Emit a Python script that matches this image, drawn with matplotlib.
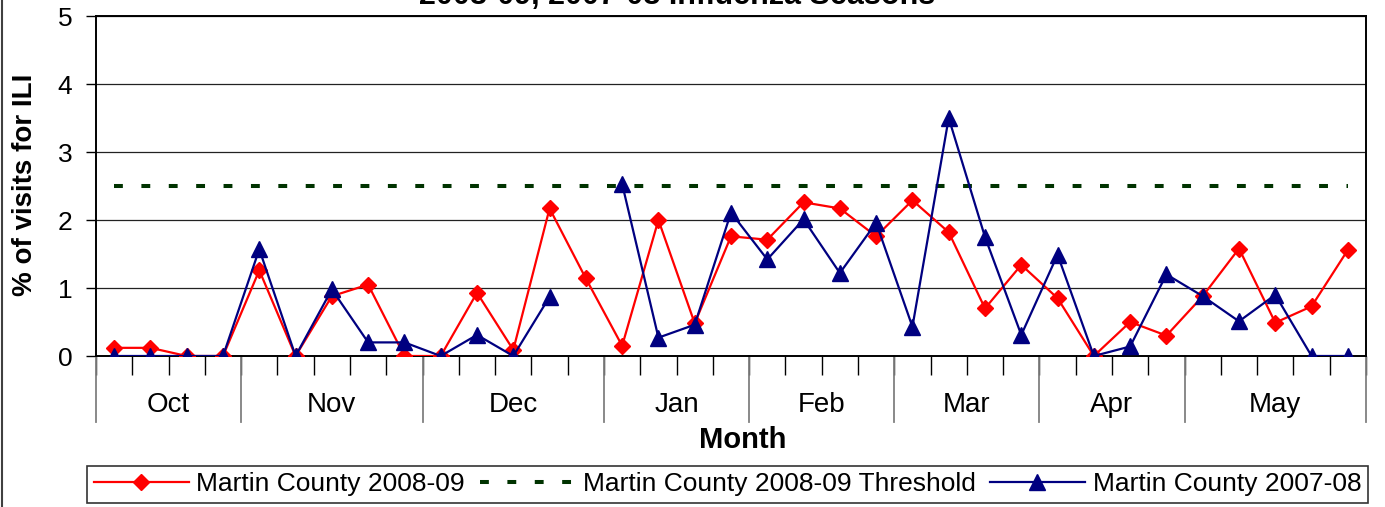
import numpy as np
import matplotlib
matplotlib.use('Agg')
import matplotlib.pyplot as plt
from matplotlib.lines import Line2D
import matplotlib.transforms as mtransforms

plt.rcParams['font.family'] = ['Liberation Sans', 'DejaVu Sans']

# weekly % of visits for ILI, Oct .. May
months = ['Oct', 'Nov', 'Dec', 'Jan', 'Feb', 'Mar', 'Apr', 'May']
weeksPerMonth = [4, 5, 5, 4, 4, 4, 4, 5]
ili2008 = [0.12, 0.12, 0, 0, 1.26, 0, 0.88, 1.05, 0, 0, 0.93, 0.09, 2.17, 1.14,
           0.15, 2.0, 0.48, 1.76, 1.71, 2.26, 2.17, 1.76, 2.29, 1.82, 0.7, 1.34,
           0.85, 0, 0.5, 0.3, 0.88, 1.58, 0.49, 0.73, 1.56]
ili2007 = [0, 0, 0, 0, 1.57, 0, 0.98, 0.2, 0.2, 0, 0.31, 0, 0.87, np.nan,
           2.53, 0.27, 0.46, 2.11, 1.42, 2.01, 1.22, 1.96, 0.43, 3.5, 1.75, 0.31,
           1.49, 0, 0.14, 1.2, 0.88, 0.51, 0.9, 0, 0]
threshold2008 = 2.5

W, H = 1385, 507
fig = plt.figure(figsize=(W / 100, H / 100), dpi=100)
ax = fig.add_axes([96 / W, 1 - 356 / H, (1366 - 96) / W, (356 - 16) / H])

x = np.arange(len(ili2008))
ax.plot(x, ili2008, color='#FF0000', lw=1.6, marker='D', ms=8.5,
        mec='#FF0000', label='Martin County 2008-09', zorder=4)
ax.plot(x, [threshold2008] * len(x), color='#003300', lw=2.9,
        ls=(0, (2.2, 4.6)), label='Martin County 2008-09 Threshold', zorder=3)
ax.plot(x, ili2007, color='#000080', lw=1.6, marker='^', ms=11,
        mec='#000080', label='Martin County 2007-08', zorder=5)

ax.set_xlim(-0.5, len(x) - 0.5)
ax.set_ylim(0, 5)
ax.set_yticks([0, 1, 2, 3, 4, 5])
ax.grid(axis='y', color='#222222', lw=0.9)
ax.set_axisbelow(True)
for s in ax.spines.values():
    s.set_linewidth(1.4)
    s.set_color('black')

# week ticks at category boundaries
ax.set_xticks(np.arange(len(x) + 1) - 0.5)
ax.set_xticklabels([])
ax.tick_params(axis='x', length=14, width=1, color='black', direction='out')
ax.tick_params(axis='y', length=7, width=1, pad=10, labelsize=19)

# month separators and labels
trans = mtransforms.blended_transform_factory(ax.transData, ax.transAxes)
bounds = np.concatenate([[0], np.cumsum(weeksPerMonth)]) - 0.5
for b in bounds:
    ax.plot([b, b], [0, -66 / 340], color='#808080', lw=1.3,
            transform=trans, clip_on=False)
for i, m in enumerate(months):
    ax.text((bounds[i] + bounds[i + 1]) / 2, -49 / 340, m, transform=trans,
            ha='center', va='center', fontsize=20)

fig.text(25 / W, 1 - 185 / H, '% of visits for ILI', rotation=90,
         ha='center', va='center', fontsize=20, fontweight='bold')
fig.text(743 / W, 1 - 440 / H, 'Month', ha='center', va='center',
         fontsize=21, fontweight='bold')

fig.text(677 / W, 1 - 4 / H, '2008-09, 2007-08 Influenza Seasons',
         ha='center', va='baseline', fontsize=22, fontweight='bold')

leg = fig.legend(loc='center', bbox_to_anchor=(727.5 / W, 1 - 484.5 / H),
                 ncol=3, fontsize=19, frameon=True, fancybox=False,
                 edgecolor='black', handlelength=3.6, handletextpad=0.3,
                 columnspacing=0.55, borderpad=0.25, numpoints=1,
                 borderaxespad=0)
leg.get_frame().set_linewidth(1.2)

fig.add_artist(Line2D([2 / W, 2 / W], [0, 1], color='#404040', lw=1.5))

fig.savefig('out.png', dpi=100)
